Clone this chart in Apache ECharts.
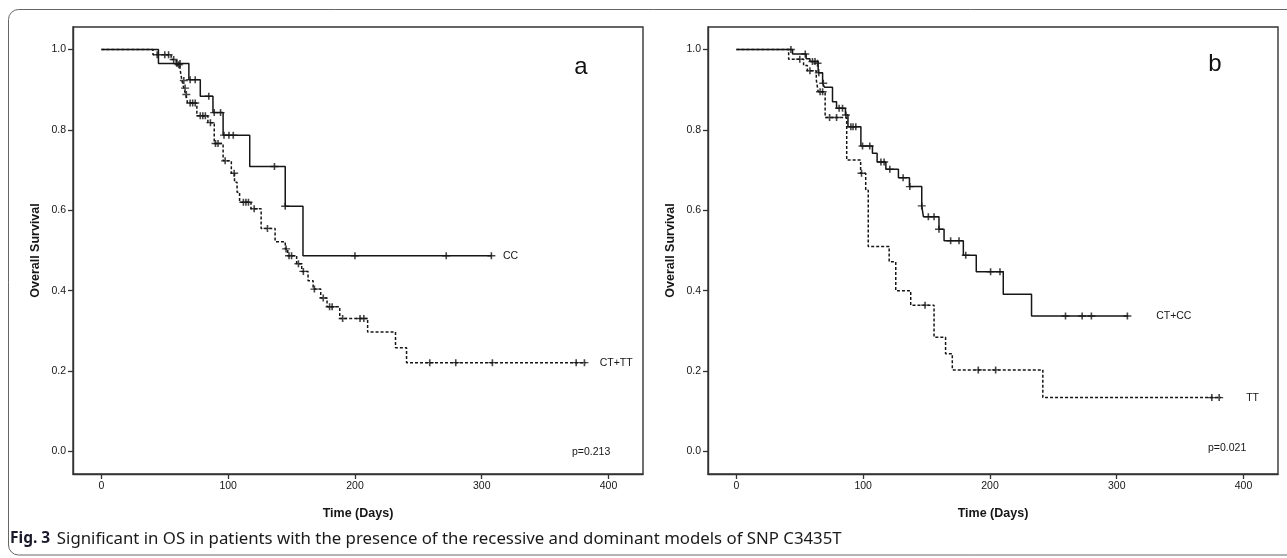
<!DOCTYPE html>
<html><head><meta charset="utf-8">
<script src="https://cdn.jsdelivr.net/npm/echarts@6/dist/echarts.min.js"></script>
<style>html,body{margin:0;padding:0;background:#fff}#c{width:1287px;height:558px}</style>
</head><body><div id="c"></div>
<script>
// ---- tick labels ----
const xTicks = [0, 100, 200, 300, 400];
const yTicks = [0, 0.2, 0.4, 0.6, 0.8, 1.0];

// ---- panel a : CC (solid) ----
const aCC_t = [0, 45, 69, 78, 88, 96, 117, 145, 159, 308];
const aCC_s = [1.0, 0.965, 0.925, 0.884, 0.843, 0.787, 0.709, 0.61, 0.487, 0.487];
const aCC_ct = [59.6, 62, 70, 74, 84.7, 89, 94, 96.7, 100.6, 104, 136.5, 145, 200, 272, 307.6];
const aCC_cs = [0.965, 0.965, 0.925, 0.925, 0.884, 0.843, 0.843, 0.787, 0.787, 0.787, 0.709, 0.61, 0.487, 0.487, 0.487];

// ---- panel a : CT+TT (dashed) ----
const aCT_t = [0, 40.7, 55, 59, 62, 63.5, 65, 66.5, 68, 75.3, 84, 89, 96, 102.5, 105, 107, 109, 118, 126, 137, 145, 147, 154, 158, 163, 167, 173, 178, 188, 210, 232, 240.7, 382];
const aCT_s = [1.0, 0.987, 0.975, 0.962, 0.952, 0.923, 0.904, 0.888, 0.867, 0.835, 0.818, 0.766, 0.723, 0.692, 0.67, 0.645, 0.62, 0.604, 0.555, 0.522, 0.504, 0.487, 0.467, 0.448, 0.425, 0.404, 0.382, 0.36, 0.331, 0.297, 0.258, 0.221, 0.221];
const aCT_ct = [44, 50, 53, 57, 61, 65, 66, 67, 70, 72, 74, 78, 80, 82, 86, 90, 92, 97.6, 104.7, 112, 114, 116, 120.5, 131, 145.7, 148, 150, 155.4, 159.3, 168, 175, 180, 182, 190.3, 204, 207, 259, 279.5, 308.4, 374.5, 381];
const aCT_cs = [0.987, 0.987, 0.987, 0.975, 0.962, 0.923, 0.904, 0.888, 0.867, 0.867, 0.867, 0.835, 0.835, 0.835, 0.818, 0.766, 0.766, 0.723, 0.692, 0.62, 0.62, 0.62, 0.604, 0.555, 0.504, 0.487, 0.487, 0.467, 0.448, 0.404, 0.382, 0.36, 0.36, 0.331, 0.331, 0.331, 0.221, 0.221, 0.221, 0.221, 0.221];

// ---- panel b : CT+CC (solid) ----
const bCC_t = [0, 44.3, 55, 58, 64.5, 68, 69.5, 75.8, 79, 86, 88, 98.2, 107.3, 111, 117.9, 127.8, 136.5, 146.2, 147.5, 159.8, 163.8, 179, 189.2, 210.5, 232.8, 309];
const bCC_s = [1.0, 0.989, 0.977, 0.97, 0.942, 0.916, 0.906, 0.87, 0.854, 0.837, 0.808, 0.76, 0.742, 0.72, 0.702, 0.681, 0.659, 0.611, 0.584, 0.553, 0.524, 0.488, 0.447, 0.391, 0.337, 0.337];
const bCC_ct = [43, 54.3, 60, 62, 64, 65, 68.5, 81, 83.7, 86.4, 90.3, 92, 94.2, 99.5, 105.2, 114, 116.5, 121, 131.5, 136.8, 146.2, 151.4, 155.9, 159.8, 169, 175.6, 180.9, 200.5, 207.9, 259.6, 272.7, 280, 308.4];
const bCC_cs = [1.0, 0.989, 0.97, 0.97, 0.966, 0.942, 0.916, 0.854, 0.854, 0.837, 0.808, 0.808, 0.808, 0.76, 0.76, 0.72, 0.72, 0.702, 0.681, 0.659, 0.611, 0.584, 0.584, 0.553, 0.524, 0.524, 0.488, 0.447, 0.447, 0.337, 0.337, 0.337, 0.337];

// ---- panel b : TT (dashed) ----
const bTT_t = [0, 41.2, 53, 56, 63, 64.5, 70, 87, 98, 102, 104, 120.5, 125.7, 137.5, 155.9, 165, 170.3, 241.7, 382.4];
const bTT_s = [1.0, 0.976, 0.96, 0.947, 0.925, 0.895, 0.831, 0.725, 0.692, 0.65, 0.51, 0.472, 0.40, 0.364, 0.284, 0.243, 0.203, 0.134, 0.134];
const bTT_ct = [50, 58, 66, 68, 73.5, 79, 98.7, 148.8, 190.8, 204.5, 375, 380.8];
const bTT_cs = [0.976, 0.947, 0.895, 0.895, 0.831, 0.831, 0.692, 0.364, 0.203, 0.203, 0.134, 0.134];

const FONT = "'Liberation Sans Narrow','Liberation Sans',Arial,sans-serif";
const INK = '#161616';
const PLUS = 'path://M0,3.2 L8,3.2 L8,4.8 L0,4.8 Z M3.2,0 L4.8,0 L4.8,8 L3.2,8 Z';

function zip(t, s) { return t.map((v, i) => [v, s[i]]); }

const chart = echarts.init(document.getElementById('c'), null, { renderer: 'canvas' });

function xAxis(gi) {
  return {
    gridIndex: gi, type: 'value', min: -22.4, max: 427.2,
    axisLine: { show: true, onZero: false, lineStyle: { color: '#333', width: 1.4 } },
    axisTick: { show: true, customValues: xTicks, length: 5, lineStyle: { color: '#333', width: 1.3 } },
    axisLabel: { customValues: xTicks, fontSize: 10.5, color: INK, margin: 7, fontFamily: FONT },
    splitLine: { show: false },
    name: 'Time (Days)', nameLocation: 'middle', nameGap: 33,
    nameTextStyle: { fontWeight: 'bold', fontSize: 12.5, color: INK, fontFamily: FONT }
  };
}
function yAxis(gi) {
  return {
    gridIndex: gi, type: 'value', min: -0.056, max: 1.056,
    axisLine: { show: true, onZero: false, lineStyle: { color: '#333', width: 1.4 } },
    axisTick: { show: true, customValues: yTicks, length: 5, lineStyle: { color: '#333', width: 1.3 } },
    axisLabel: { customValues: yTicks, fontSize: 10.5, color: INK, margin: 7, fontFamily: FONT,
      formatter: v => Number(v).toFixed(1) },
    splitLine: { show: false },
    name: 'Overall Survival', nameLocation: 'middle', nameGap: 31, nameRotate: 90,
    nameTextStyle: { fontWeight: 'bold', fontSize: 12.5, color: INK, fontFamily: FONT }
  };
}
function km(name, gi, t, s, dashed, dist) {
  return {
    name: name, type: 'line', xAxisIndex: gi, yAxisIndex: gi, step: 'end',
    data: zip(t, s), showSymbol: false, symbol: 'none', silent: true, animation: false,
    lineStyle: { color: INK, width: 1.5, type: dashed ? [3, 2] : 'solid' },
    endLabel: { show: true, formatter: name, distance: dist, fontSize: 10.5, color: INK, fontFamily: FONT }
  };
}
function cens(gi, t, s) {
  return {
    type: 'scatter', xAxisIndex: gi, yAxisIndex: gi, data: zip(t, s),
    symbol: PLUS, symbolSize: [8, 7], itemStyle: { color: INK }, silent: true, animation: false
  };
}

chart.setOption({
  animation: false,
  backgroundColor: '#fff',
  grid: [
    { left: 73, top: 27, width: 570, height: 447, show: true, borderColor: '#333', borderWidth: 1.4, containLabel: false },
    { left: 708, top: 27, width: 570, height: 447, show: true, borderColor: '#333', borderWidth: 1.4, containLabel: false }
  ],
  xAxis: [xAxis(0), xAxis(1)],
  yAxis: [yAxis(0), yAxis(1)],
  series: [
    km('CC', 0, aCC_t, aCC_s, false, 11),
    km('CT+TT', 0, aCT_t, aCT_s, true, 14),
    cens(0, aCC_ct, aCC_cs),
    cens(0, aCT_ct, aCT_cs),
    km('CT+CC', 1, bCC_t, bCC_s, false, 28),
    km('TT', 1, bTT_t, bTT_s, true, 25),
    cens(1, bCC_ct, bCC_cs),
    cens(1, bTT_ct, bTT_cs)
  ],
  graphic: [
    { type: 'rect', shape: { x: 8.5, y: 9.5, width: 1300, height: 545.5, r: 10 },
      style: { fill: 'none', stroke: '#666', lineWidth: 1 }, silent: true },
    { type: 'text', x: 581, y: 67, style: { text: 'a', font: "24px 'Liberation Sans',Arial,sans-serif", fill: '#111', align: 'center', verticalAlign: 'middle' } },
    { type: 'text', x: 1215, y: 64, style: { text: 'b', font: "24px 'Liberation Sans',Arial,sans-serif", fill: '#111', align: 'center', verticalAlign: 'middle' } },
    { type: 'text', x: 572, y: 452, style: { text: 'p=0.213', font: "10.5px " + FONT, fill: INK, align: 'left', verticalAlign: 'middle' } },
    { type: 'text', x: 1208, y: 448, style: { text: 'p=0.021', font: "10.5px " + FONT, fill: INK, align: 'left', verticalAlign: 'middle' } },
    { type: 'text', x: 10, y: 539, style: {
        text: '{b|Fig. 3}  {r|Significant in OS in patients with the presence of the recessive and dominant models of SNP C3435T}',
        verticalAlign: 'middle',
        rich: {
          b: { fontWeight: 'bold', fontSize: 15.5, fill: '#1a1a2a', fontFamily: "'Noto Sans','Open Sans',sans-serif" },
          r: { fontSize: 16.8, fill: '#1a1a1a', fontFamily: "'Noto Sans','Open Sans',sans-serif" }
        } } }
  ]
});
</script>
</body></html>
